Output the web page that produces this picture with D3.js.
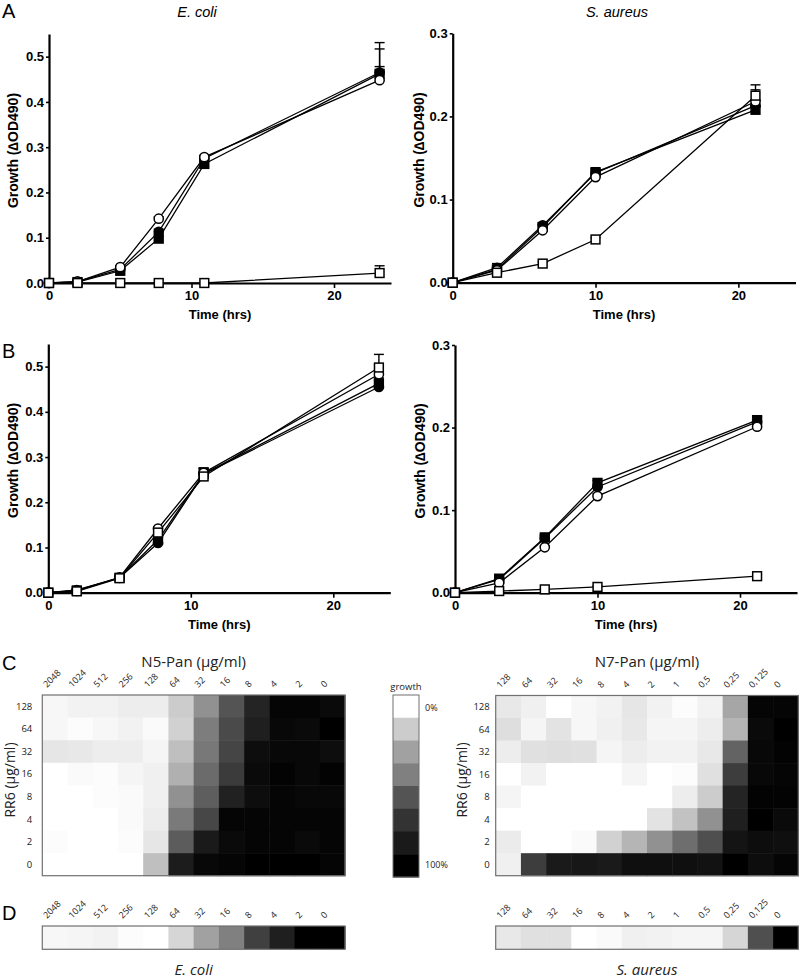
<!DOCTYPE html>
<html>
<head>
<title>Growth curves and checkerboards</title>
<style>
  body, html { margin: 0; padding: 0; background: #fff; }
  svg { display: block; }
</style>
</head>
<body>
<svg id="svg" width="800" height="980"></svg>
<script src="https://d3js.org/d3.v7.min.js"></script>
<script>
// ---- growth curves (time in hrs, growth as delta OD490) ----
const ecoliTimes = [0, 2, 5, 7.7, 10.9, 23.2]
const aureusTimes = [0, 3.1, 6.3, 10, 21.2]

// A, E. coli
const aEcoliClosedSquare = [0, 0.002, 0.027, 0.098, 0.263, 0.462]
const aEcoliClosedCircle = [0, 0.003, 0.030, 0.113, 0.275, 0.465]
const aEcoliOpenCircle = [0, 0.003, 0.035, 0.142, 0.278, 0.448]
const aEcoliOpenSquare = [0, 0, 0, 0, 0, 0.022]
const aEcoliClosedSquareErr = [0, 0.002, 0.003, 0.005, 0.005, 0.055]
const aEcoliClosedCircleErr = [0, 0.002, 0.003, 0.006, 0.005, 0.066]
const aEcoliOpenCircleErr = [0, 0.001, 0.003, 0.004, 0.004, 0.030]
const aEcoliOpenSquareErr = [0, 0, 0, 0, 0, 0.016]

// A, S. aureus
const aAureusClosedSquare = [0, 0.016, 0.067, 0.133, 0.208]
const aAureusClosedCircle = [0, 0.018, 0.069, 0.132, 0.213]
const aAureusOpenCircle = [0, 0.015, 0.063, 0.127, 0.218]
const aAureusOpenSquare = [0, 0.012, 0.023, 0.052, 0.225]
const aAureusClosedSquareErr = [0, 0.004, 0.003, 0.004, 0.005]
const aAureusClosedCircleErr = [0, 0.005, 0.003, 0.004, 0.006]
const aAureusOpenCircleErr = [0, 0.003, 0.003, 0.003, 0.014]
const aAureusOpenSquareErr = [0, 0.002, 0.002, 0.002, 0.013]

// B, E. coli
const bEcoliClosedSquare = [0, 0.005, 0.033, 0.117, 0.263, 0.463]
const bEcoliClosedCircle = [0, 0.006, 0.033, 0.110, 0.262, 0.455]
const bEcoliOpenCircle = [0, 0.004, 0.034, 0.142, 0.265, 0.483]
const bEcoliOpenSquare = [0, 0.003, 0.032, 0.133, 0.257, 0.498]
const bEcoliClosedSquareErr = [0, 0.003, 0.003, 0.004, 0.012, 0.012]
const bEcoliClosedCircleErr = [0, 0.004, 0.003, 0.005, 0.014, 0.015]
const bEcoliOpenCircleErr = [0, 0.002, 0.003, 0.004, 0.010, 0.020]
const bEcoliOpenSquareErr = [0, 0.002, 0.003, 0.004, 0.008, 0.029]

// B, S. aureus
const bAureusClosedSquare = [0, 0.017, 0.067, 0.133, 0.209]
const bAureusClosedCircle = [0, 0.016, 0.066, 0.128, 0.207]
const bAureusOpenCircle = [0, 0.012, 0.055, 0.117, 0.201]
const bAureusOpenSquare = [0, 0.002, 0.004, 0.007, 0.020]
const bAureusClosedSquareErr = [0, 0.002, 0.003, 0.003, 0.004]
const bAureusClosedCircleErr = [0, 0.002, 0.003, 0.003, 0.004]
const bAureusOpenCircleErr = [0, 0.002, 0.002, 0.003, 0.004]
const bAureusOpenSquareErr = [0, 0.001, 0.001, 0.001, 0.002]

const xTicks = [0, 10, 20]
const ecoliYTicks = [0, 0.1, 0.2, 0.3, 0.4, 0.5]
const aureusYTicks = [0, 0.1, 0.2, 0.3]

// ---- checkerboards (growth in %, 0 = white, 100 = black) ----
const n5Conc = ['2048', '1024', '512', '256', '128', '64', '32', '16', '8', '4', '2', '0']
const n7Conc = ['128', '64', '32', '16', '8', '4', '2', '1', '0,5', '0,25', '0,125', '0']
const rr6Conc = ['128', '64', '32', '16', '8', '4', '2', '0']

const ecoliGrid = [
	[3, 5, 5, 7, 7, 20, 43, 67, 86, 98, 98, 96],
	[3, 1, 3, 5, 2, 18, 51, 71, 88, 97, 96, 100],
	[10, 9, 7, 7, 4, 25, 53, 73, 95, 97, 97, 95],
	[0, 2, 1, 4, 6, 31, 58, 77, 96, 99, 97, 99],
	[0, 0, 1, 2, 6, 43, 63, 87, 95, 98, 97, 97],
	[0, 0, 0, 2, 7, 52, 72, 98, 98, 98, 98, 98],
	[1, 0, 0, 1, 10, 64, 90, 96, 98, 98, 96, 98],
	[0, 0, 0, 0, 25, 89, 97, 98, 100, 100, 100, 98]
]
const aureusGrid = [
	[9, 6, 0, 3, 5, 10, 5, 1, 5, 35, 98, 98],
	[13, 4, 11, 3, 6, 9, 4, 4, 7, 29, 96, 100],
	[7, 12, 13, 12, 4, 7, 5, 5, 9, 61, 97, 99],
	[0, 5, 0, 0, 0, 4, 0, 1, 12, 76, 97, 98],
	[4, 0, 0, 0, 0, 0, 0, 7, 20, 86, 99, 99],
	[0, 0, 0, 0, 0, 0, 11, 24, 43, 88, 100, 96],
	[8, 0, 0, 2, 18, 29, 43, 57, 69, 92, 95, 94],
	[6, 76, 90, 91, 90, 94, 94, 94, 93, 100, 95, 98]
]
// D: compound alone
const ecoliAlone = [3, 4, 5, 1, 0, 16, 37, 50, 75, 88, 100, 100]
const aureusAlone = [9, 12, 12, 0, 2, 6, 5, 4, 4, 16, 69, 100]
const legendSteps = [0, 20, 37, 50, 67, 80, 90, 100]

const svg = d3.select('#svg')
const plotFont = '"Liberation Sans", Arial, sans-serif'
const mapFont = '"Open Sans", sans-serif'

const shade = d3.scaleLinear().domain([0, 100]).range(['#ffffff', '#000000'])

function makeSeries(times, cs, csErr, cc, ccErr, oc, ocErr, os, osErr) {
	return [
		{ shape: 'square', filled: true, values: cs, err: csErr },
		{ shape: 'circle', filled: true, values: cc, err: ccErr },
		{ shape: 'circle', filled: false, values: oc, err: ocErr },
		{ shape: 'square', filled: false, values: os, err: osErr }
	].map(s => ({ ...s, points: times.map((t, i) => ({ t, v: s.values[i], e: s.err[i] })) }))
}

function growthPanel(cfg) {
	const x = d3.scaleLinear().domain([0, 24]).range(cfg.xr)
	const y = d3.scaleLinear().domain([0, cfg.ymax]).range(cfg.yr)
	const g = svg.append('g')

	const xAxis = g.append('g')
		.attr('transform', `translate(0,${cfg.yr[0]})`)
		.call(d3.axisBottom(x).tickValues(xTicks).tickFormat(d3.format('d'))
			.tickSize(5).tickPadding(3).tickSizeOuter(0))
	const yAxis = g.append('g')
		.attr('transform', `translate(${cfg.xr[0]},0)`)
		.call(d3.axisLeft(y).tickValues(cfg.yticks).tickFormat(d3.format('.1f'))
			.tickSize(3).tickPadding(2).tickSizeOuter(0))
	;[xAxis, yAxis].forEach(a => {
		a.select('.domain').attr('stroke', '#000').attr('stroke-width', 2.2)
		a.selectAll('.tick line').attr('stroke', '#000').attr('stroke-width', 1.6)
		a.selectAll('.tick text')
			.attr('font-family', plotFont).attr('font-weight', 'bold')
			.attr('font-size', 13).attr('fill', '#000')
	})

	g.append('text')
		.attr('x', (cfg.xr[0] + cfg.xr[1]) / 2)
		.attr('y', cfg.yr[0] + 36)
		.attr('text-anchor', 'middle')
		.attr('font-family', plotFont).attr('font-weight', 'bold').attr('font-size', 13)
		.text('Time (hrs)')

	g.append('text')
		.attr('transform', `translate(${cfg.ylabX},${(cfg.yr[0] + cfg.yr[1]) / 2 - 8}) rotate(-90)`)
		.attr('text-anchor', 'middle')
		.attr('font-family', plotFont).attr('font-weight', 'bold').attr('font-size', 14)
		.text('Growth (\u2206OD490)')

	const line = d3.line().x(d => x(d.t)).y(d => y(d.v))
	g.selectAll('path.series')
		.data(cfg.series)
		.join('path')
		.attr('class', 'series')
		.attr('d', d => line(d.points))
		.attr('fill', 'none')
		.attr('stroke', '#000')
		.attr('stroke-width', 1.3)

	// error bars (upper half only)
	cfg.series.forEach(s => {
		const bars = g.append('g').selectAll('g')
			.data(s.points.filter(p => p.e > 0))
			.join('g')
		bars.append('line')
			.attr('x1', d => x(d.t)).attr('x2', d => x(d.t))
			.attr('y1', d => y(d.v)).attr('y2', d => y(d.v + d.e))
			.attr('stroke', '#000').attr('stroke-width', 1.4)
		bars.append('line')
			.attr('x1', d => x(d.t) - 5).attr('x2', d => x(d.t) + 5)
			.attr('y1', d => y(d.v + d.e)).attr('y2', d => y(d.v + d.e))
			.attr('stroke', '#000').attr('stroke-width', 1.4)
	})

	cfg.series.forEach(s => {
		const m = g.append('g').selectAll('.m')
			.data(s.points)
			.join(s.shape === 'circle' ? 'circle' : 'rect')
			.attr('fill', s.filled ? '#000' : '#fff')
			.attr('stroke', '#000')
			.attr('stroke-width', 1.5)
		if (s.shape === 'circle') {
			m.attr('cx', d => x(d.t)).attr('cy', d => y(d.v)).attr('r', 4.6)
		} else {
			m.attr('x', d => x(d.t) - 4.4).attr('y', d => y(d.v) - 4.4)
				.attr('width', 8.8).attr('height', 8.8)
		}
	})
}

growthPanel({
	xr: [49, 391], yr: [283, 34], ymax: 0.55, yticks: ecoliYTicks, ylabX: 18,
	series: makeSeries(ecoliTimes, aEcoliClosedSquare, aEcoliClosedSquareErr, aEcoliClosedCircle, aEcoliClosedCircleErr,
		aEcoliOpenCircle, aEcoliOpenCircleErr, aEcoliOpenSquare, aEcoliOpenSquareErr)
})
growthPanel({
	xr: [452.7, 795.5], yr: [282.7, 33.3], ymax: 0.3, yticks: aureusYTicks, ylabX: 424,
	series: makeSeries(aureusTimes, aAureusClosedSquare, aAureusClosedSquareErr, aAureusClosedCircle, aAureusClosedCircleErr,
		aAureusOpenCircle, aAureusOpenCircleErr, aAureusOpenSquare, aAureusOpenSquareErr)
})
growthPanel({
	xr: [48.3, 390.3], yr: [592.7, 344], ymax: 0.55, yticks: ecoliYTicks, ylabX: 18,
	series: makeSeries(ecoliTimes, bEcoliClosedSquare, bEcoliClosedSquareErr, bEcoliClosedCircle, bEcoliClosedCircleErr,
		bEcoliOpenCircle, bEcoliOpenCircleErr, bEcoliOpenSquare, bEcoliOpenSquareErr)
})
growthPanel({
	xr: [455, 797], yr: [592.7, 345], ymax: 0.3, yticks: aureusYTicks, ylabX: 425,
	series: makeSeries(aureusTimes, bAureusClosedSquare, bAureusClosedSquareErr, bAureusClosedCircle, bAureusClosedCircleErr,
		bAureusOpenCircle, bAureusOpenCircleErr, bAureusOpenSquare, bAureusOpenSquareErr)
})

// species titles
svg.append('text').attr('x', 197).attr('y', 17).attr('text-anchor', 'middle')
	.attr('font-family', plotFont).attr('font-style', 'italic').attr('font-size', 14.5).text('E. coli')
svg.append('text').attr('x', 617).attr('y', 17).attr('text-anchor', 'middle')
	.attr('font-family', plotFont).attr('font-style', 'italic').attr('font-size', 14.5).text('S. aureus')

// panel letters
const letters = [['A', 18], ['B', 358], ['C', 670], ['D', 920]]
letters.forEach(([l, yy]) => {
	svg.append('text').attr('x', 2).attr('y', yy)
		.attr('font-family', plotFont).attr('font-size', 20).text(l)
})

// ---- heatmaps ----
function colLabels(g, x, conc, top) {
	g.selectAll('text.col')
		.data(conc)
		.join('text')
		.attr('class', 'col')
		.attr('transform', d => `translate(${x(d) + x.bandwidth() / 2 - 8},${top - 7}) rotate(-45)`)
		.attr('font-family', mapFont).attr('font-size', 9).attr('fill', '#222')
		.text(d => d)
}

function heatmap(cfg) {
	const g = svg.append('g')
	const x = d3.scaleBand().domain(cfg.cols).range(cfg.xr)
	const y = d3.scaleBand().domain(rr6Conc).range(cfg.yr)
	const cells = cfg.grid.flatMap((row, i) => row.map((v, j) => ({ r: rr6Conc[i], c: cfg.cols[j], v })))

	g.selectAll('rect.cell')
		.data(cells)
		.join('rect')
		.attr('class', 'cell')
		.attr('x', d => x(d.c)).attr('y', d => y(d.r))
		.attr('width', x.bandwidth() + 0.5).attr('height', y.bandwidth() + 0.5)
		.attr('fill', d => shade(d.v))
	g.append('rect')
		.attr('x', cfg.xr[0]).attr('y', cfg.yr[0])
		.attr('width', cfg.xr[1] - cfg.xr[0]).attr('height', cfg.yr[1] - cfg.yr[0])
		.attr('fill', 'none').attr('stroke', '#707070').attr('stroke-width', 1.2)

	colLabels(g, x, cfg.cols, cfg.yr[0])

	g.selectAll('text.row')
		.data(rr6Conc)
		.join('text')
		.attr('class', 'row')
		.attr('x', cfg.xr[0] - cfg.rowGap)
		.attr('y', d => y(d) + y.bandwidth() / 2)
		.attr('dy', '0.35em')
		.attr('text-anchor', 'end')
		.attr('font-family', mapFont).attr('font-size', 9.5).attr('fill', '#222')
		.text(d => d)

	g.append('text')
		.attr('x', (cfg.xr[0] + cfg.xr[1]) / 2).attr('y', 667)
		.attr('text-anchor', 'middle')
		.attr('font-family', mapFont).attr('font-size', 15).attr('fill', '#222')
		.text(cfg.title)

	g.append('text')
		.attr('transform', `translate(${cfg.labX},780) rotate(-90)`)
		.attr('text-anchor', 'middle')
		.attr('font-family', mapFont).attr('font-size', 14).attr('fill', '#222')
		.text('RR6 (\u00b5g/ml)')
}

heatmap({ grid: ecoliGrid, cols: n5Conc, xr: [42.3, 345], yr: [695, 875.7], rowGap: 10, labX: 15, title: 'N5-Pan (\u00b5g/ml)' })
heatmap({ grid: aureusGrid, cols: n7Conc, xr: [495.7, 798.3], yr: [695.5, 875.7], rowGap: 6, labX: 467, title: 'N7-Pan (\u00b5g/ml)' })

// legend
const legY = d3.scaleBand().domain(legendSteps).range([695, 877])
const leg = svg.append('g')
leg.selectAll('rect')
	.data(legendSteps)
	.join('rect')
	.attr('x', 393).attr('y', d => legY(d))
	.attr('width', 26).attr('height', legY.bandwidth() + 0.5)
	.attr('fill', d => shade(d))
leg.append('rect').attr('x', 393).attr('y', 695).attr('width', 26).attr('height', 182)
	.attr('fill', 'none').attr('stroke', '#707070').attr('stroke-width', 1)
leg.append('text').attr('x', 406).attr('y', 690).attr('text-anchor', 'middle')
	.attr('font-family', mapFont).attr('font-size', 9.5).attr('fill', '#222').text('growth')
leg.append('text').attr('x', 425).attr('y', 711)
	.attr('font-family', mapFont).attr('font-size', 9).attr('fill', '#222').text('0%')
leg.append('text').attr('x', 425).attr('y', 868)
	.attr('font-family', mapFont).attr('font-size', 9).attr('fill', '#222').text('100%')

// D rows, compound alone
function singleRow(vals, cols, xr, name) {
	const g = svg.append('g')
	const x = d3.scaleBand().domain(cols).range(xr)
	g.selectAll('rect.cell')
		.data(vals.map((v, j) => ({ c: cols[j], v })))
		.join('rect')
		.attr('class', 'cell')
		.attr('x', d => x(d.c)).attr('y', 926)
		.attr('width', x.bandwidth() + 0.5).attr('height', 23.3)
		.attr('fill', d => shade(d.v))
	g.append('rect').attr('x', xr[0]).attr('y', 926).attr('width', xr[1] - xr[0]).attr('height', 23.3)
		.attr('fill', 'none').attr('stroke', '#707070').attr('stroke-width', 1.2)
	colLabels(g, x, cols, 926)
	g.append('text').attr('x', (xr[0] + xr[1]) / 2).attr('y', 975).attr('text-anchor', 'middle')
		.attr('font-family', mapFont).attr('font-style', 'italic').attr('font-size', 15).attr('fill', '#222')
		.text(name)
}
singleRow(ecoliAlone, n5Conc, [42.3, 345], 'E. coli')
singleRow(aureusAlone, n7Conc, [495.7, 798.3], 'S. aureus')
</script>
</body>
</html>
